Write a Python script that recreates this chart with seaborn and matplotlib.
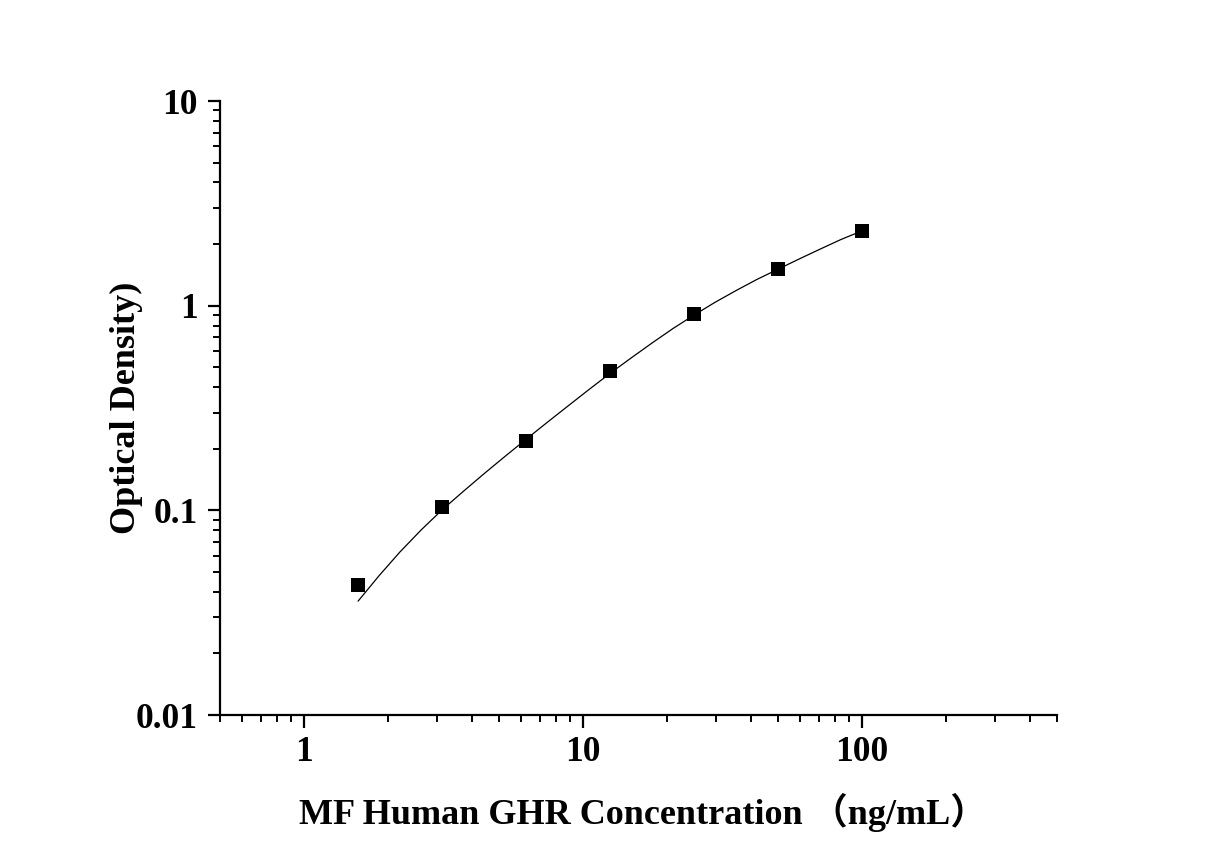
import numpy as np
import pandas as pd
import seaborn as sns
import matplotlib.pyplot as plt
from matplotlib.ticker import LogLocator, FixedLocator, FixedFormatter, NullFormatter

# standard points (concentration, OD)
conc = [1.5625, 3.125, 6.25, 12.5, 25, 50, 100]
od = [0.043, 0.1035, 0.219, 0.477, 0.914, 1.51, 2.32]

# fitted curve
curve_x = [1.5625, 1.86, 2.21, 2.63, 3.125, 3.72, 4.42, 5.26, 6.25, 7.43, 8.84, 10.5,
           12.5, 14.9, 17.7, 21, 25, 29.7, 35.4, 42, 50, 59.5, 70.7, 84, 100]
curve_y = [0.036, 0.048, 0.0627, 0.0802, 0.1005, 0.1236, 0.151, 0.1837, 0.2223, 0.2685,
           0.3236, 0.389, 0.4667, 0.556, 0.6577, 0.7727, 0.8995, 1.0375, 1.186, 1.343,
           1.507, 1.69, 1.888, 2.104, 2.32]

xlabel = "MF Human GHR Concentration （ng/mL）"
ylabel = "Optical Density)"
ytick_vals = [0.01, 0.1, 1, 10]
ytick_labels = ["0.01", "0.1", "1", "10"]
xtick_vals = [1, 10, 100]
xtick_labels = ["1", "10", "100"]

sns.set_theme(style="ticks")
plt.rcParams['font.family'] = ['Liberation Serif', 'Noto Sans CJK SC']
plt.rcParams['font.weight'] = 'bold'
plt.rcParams['axes.labelweight'] = 'bold'
plt.rcParams['text.color'] = 'black'
plt.rcParams['axes.labelcolor'] = 'black'
plt.rcParams['xtick.color'] = 'black'
plt.rcParams['ytick.color'] = 'black'

pts = pd.DataFrame({"conc": conc, "od": od})
fit = pd.DataFrame({"conc": curve_x, "od": curve_y})

fig = plt.figure(figsize=(12.27, 8.58), dpi=100)
ax = fig.add_axes([220 / 1227, 1 - 715 / 858, (1057 - 220) / 1227, (715 - 101) / 858])

sns.lineplot(data=fit, x="conc", y="od", color="black", linewidth=0.9, ax=ax)
sns.scatterplot(data=pts, x="conc", y="od", marker="s", color="black", s=110,
                edgecolor="black", linewidth=0, ax=ax, zorder=3)

ax.set_xscale("log")
ax.set_yscale("log")
ax.set_xlim(0.5, 500)
ax.set_ylim(0.01, 10)

ax.xaxis.set_major_locator(FixedLocator(xtick_vals))
ax.xaxis.set_major_formatter(FixedFormatter(xtick_labels))
ax.xaxis.set_minor_locator(LogLocator(base=10, subs=np.arange(2, 10), numticks=20))
ax.xaxis.set_minor_formatter(NullFormatter())
ax.yaxis.set_major_locator(FixedLocator(ytick_vals))
ax.yaxis.set_major_formatter(FixedFormatter(ytick_labels))
ax.yaxis.set_minor_locator(LogLocator(base=10, subs=np.arange(2, 10), numticks=20))
ax.yaxis.set_minor_formatter(NullFormatter())

sns.despine(ax=ax)
for side in ["left", "bottom"]:
    ax.spines[side].set_linewidth(1.6)
    ax.spines[side].set_color("black")

ax.tick_params(which="major", direction="out", length=9, width=1.6, color="black",
               labelsize=25.5, labelcolor="black", pad=6)
ax.tick_params(which="minor", direction="out", length=5, width=1.4, color="black")
ax.tick_params(axis="y", which="major", pad=7)
for lab in ax.get_xticklabels() + ax.get_yticklabels():
    lab.set_fontweight("bold")

ax.set_xlabel(xlabel, fontsize=26, fontweight="bold", color="black")
ax.set_ylabel(ylabel, fontsize=26, fontweight="bold", color="black")
ax.xaxis.set_label_coords(0.505, -0.127)
ax.yaxis.set_label_coords(-0.092, 0.5)

fig.savefig("out.png", dpi=100)
